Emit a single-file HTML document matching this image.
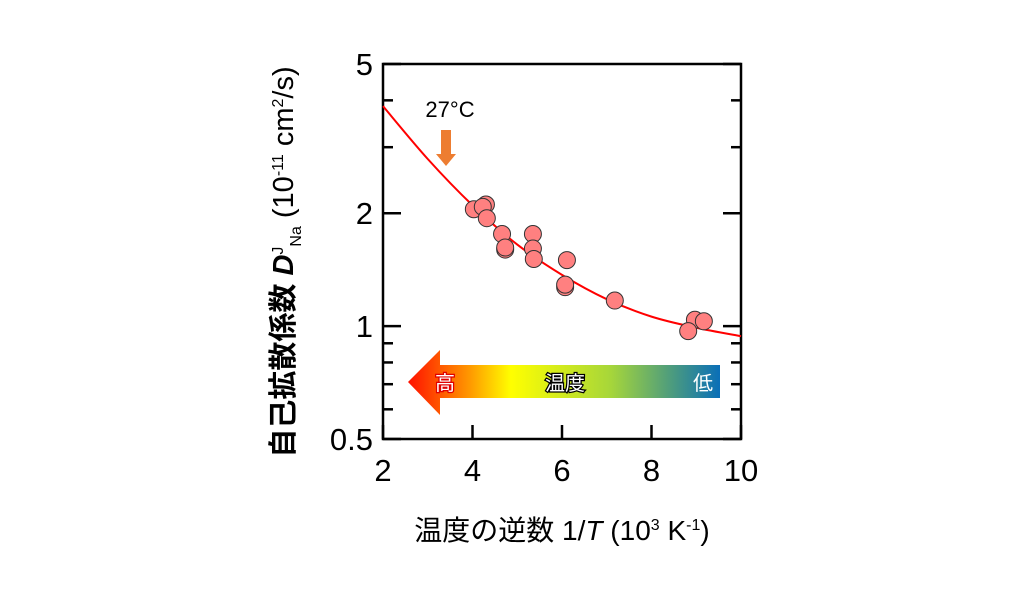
<!DOCTYPE html>
<html><head><meta charset="utf-8"><style>
body{margin:0;background:#fff;width:1024px;height:584px;overflow:hidden}
svg text{font-family:"Liberation Sans","Noto Sans CJK JP",sans-serif}
</style></head><body>
<svg width="1024" height="584">
<defs>
<linearGradient id="tg" x1="408" x2="720" y1="0" y2="0" gradientUnits="userSpaceOnUse">
<stop offset="0" stop-color="#ff1000"/><stop offset="0.2" stop-color="#ff9a00"/><stop offset="0.33" stop-color="#ffff00"/><stop offset="0.65" stop-color="#a6d63a"/><stop offset="0.85" stop-color="#4a9a80"/><stop offset="1" stop-color="#0a6fb8"/>
</linearGradient>
</defs>
<g id="axes"></g>
<g id="marks"></g>
<polygon points="408,382 440,350 440,365 720,365 720,398 440,398 440,415" fill="url(#tg)"/>
<text x="445" y="390" font-size="20" fill="#fff" stroke="#e00000" stroke-width="2.5" paint-order="stroke" text-anchor="middle">高</text>
<text x="565" y="390" font-size="20" fill="#fff" stroke="#000" stroke-width="2.5" paint-order="stroke" text-anchor="middle">温度</text>
<text x="703" y="390" font-size="20" fill="#fff" text-anchor="middle">低</text>
<text x="450" y="117" font-size="22" text-anchor="middle">27°C</text>
<polygon points="441,130 451,130 451,154 456,154 446,166 436,154 441,154" fill="#ed7d31"/>
<text transform="translate(293,262) rotate(-90)" font-size="29" font-weight="bold" text-anchor="middle">自己拡散係数 <tspan font-style="italic">D</tspan><tspan font-size="16" font-weight="normal" dy="-10">J</tspan><tspan font-size="16" font-weight="normal" dy="18">Na</tspan><tspan font-weight="normal" dy="-8"> (10</tspan><tspan font-size="16" font-weight="normal" dy="-10">-11</tspan><tspan font-weight="normal" dy="10"> cm</tspan><tspan font-size="16" font-weight="normal" dy="-10">2</tspan><tspan font-weight="normal" dy="10">/s)</tspan></text>
<text x="562" y="540" font-size="28" text-anchor="middle">温度の逆数 1/<tspan font-style="italic">T</tspan> (10<tspan font-size="16" dy="-10">3</tspan><tspan dy="10"> K</tspan><tspan font-size="16" dy="-10">-1</tspan><tspan dy="10">)</tspan></text>
</svg>
<script>
const xTicks=[2,4,6,8,10];
const yTickVals=[0.5,1,2,5];
const yTickLabels=["0.5","1","2","5"];
const yMinor=[0.6,0.7,0.8,0.9,3,4];
const pointX=[4.03,4.30,4.23,4.32,4.66,4.73,4.73,5.35,5.35,5.37,6.11,6.07,6.07,7.18,8.97,9.17,8.82];
const pointY=[2.05,2.11,2.08,1.94,1.76,1.60,1.62,1.76,1.61,1.51,1.50,1.27,1.29,1.17,1.04,1.03,0.97];
const curveX=[2,3,4,5,6,7,8,9,10];
const curveY=[3.86,2.79,2.10,1.65,1.37,1.18,1.06,0.99,0.94];
const L=383,R=741,T=64,B=439;
const xs=v=>L+(v-2)/8*(R-L);
const ys=v=>B-(Math.log10(v)-Math.log10(0.5))/1*(B-T);
const NS="http://www.w3.org/2000/svg";
function mk(p,tag,a){const e=document.createElementNS(NS,tag);for(const k in a)e.setAttribute(k,a[k]);p.appendChild(e);return e;}
const ax=document.getElementById('axes'),mg=document.getElementById('marks');
const fr=mk(ax,'rect',{x:L,y:T,width:R-L,height:B-T,fill:'none',stroke:'#000','stroke-width':2.5});


xTicks.forEach(v=>{const x=xs(v);
 const t=mk(ax,'line',{x1:x,x2:x,y1:B,y2:B-14,stroke:'#000','stroke-width':2.5});
 
 
 const l=mk(ax,'text',{x:x,y:B+42,'font-size':31,'text-anchor':'middle'});l.textContent=v;
 
 
});
yTickVals.forEach((v,i)=>{const y=ys(v);
 [[L,L+18],[R,R-18]].forEach(p=>{const t=mk(ax,'line',{x1:p[0],x2:p[1],y1:y,y2:y,stroke:'#000','stroke-width':2.5});
 
 });
 const l=mk(ax,'text',{x:L-10,y:y+11,'font-size':31,'text-anchor':'end'});l.textContent=yTickLabels[i];
 
 
});
yMinor.forEach(v=>{const y=ys(v);
 [[L,L+10],[R,R-10]].forEach(p=>{const t=mk(ax,'line',{x1:p[0],x2:p[1],y1:y,y2:y,stroke:'#000','stroke-width':2.5});
 
 });
});
const P=curveX.map((x,i)=>[xs(x),ys(curveY[i])]);
let d='M'+P[0][0]+','+P[0][1];
for(let i=0;i<P.length-1;i++){const p0=P[Math.max(0,i-1)],p1=P[i],p2=P[i+1],p3=P[Math.min(P.length-1,i+2)];
 d+=' C'+(p1[0]+(p2[0]-p0[0])/6)+','+(p1[1]+(p2[1]-p0[1])/6)+' '+(p2[0]-(p3[0]-p1[0])/6)+','+(p2[1]-(p3[1]-p1[1])/6)+' '+p2[0]+','+p2[1];}
const c=mk(mg,'path',{d:d,fill:'none',stroke:'#ff0000','stroke-width':2});


pointX.forEach((x,i)=>{const p=mk(mg,'circle',{cx:xs(x),cy:ys(pointY[i]),r:8.5,fill:'#ff8080',stroke:'#333','stroke-width':1});
 
 
});
</script>
</body></html>
